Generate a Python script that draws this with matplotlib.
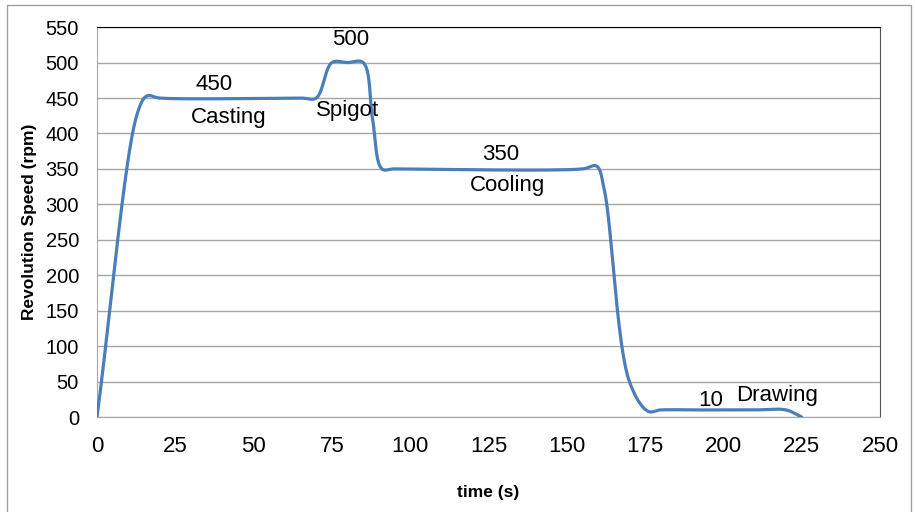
import numpy as np
import matplotlib.pyplot as plt
from matplotlib.patches import Rectangle

# key points of the speed profile (time in s, speed in rpm)
time_s = [0, 13, 16, 20, 65, 70, 75, 80, 85, 88, 91, 95, 155, 159.5, 162, 170, 176, 180,
          190, 200, 210, 220, 225]
speed = [0, 430, 453, 450, 450, 450, 500, 500, 500, 420, 350, 350, 350, 354, 320, 50, 8, 10,
         10, 10, 10, 10, 0]

# stage labels: (text, x, y)
labels = [('450', 37.5, 469), ('Casting', 42, 422),
          ('500', 81, 532), ('Spigot', 80, 433),
          ('350', 129, 370), ('Cooling', 131, 327),
          ('10', 196, 24), ('Drawing', 217, 30)]


def smooth(xs, ys, sx=3.13, sy=0.709, n=40):
    # smoothed line like Excel's, centripetal Catmull-Rom in screen units
    p = np.column_stack([np.array(xs) * sx, np.array(ys) * sy]).astype(float)
    p = np.vstack([2 * p[0] - p[1], p, 2 * p[-1] - p[-2]])
    out = []
    for i in range(1, len(p) - 2):
        p0, p1, p2, p3 = p[i - 1], p[i], p[i + 1], p[i + 2]
        t0 = 0.0
        t1 = t0 + np.linalg.norm(p1 - p0) ** 0.5
        t2 = t1 + np.linalg.norm(p2 - p1) ** 0.5
        t3 = t2 + np.linalg.norm(p3 - p2) ** 0.5
        t = np.linspace(t1, t2, n, endpoint=False)[:, None]
        a1 = (t1 - t) / (t1 - t0) * p0 + (t - t0) / (t1 - t0) * p1
        a2 = (t2 - t) / (t2 - t1) * p1 + (t - t1) / (t2 - t1) * p2
        a3 = (t3 - t) / (t3 - t2) * p2 + (t - t2) / (t3 - t2) * p3
        b1 = (t2 - t) / (t2 - t0) * a1 + (t - t0) / (t2 - t0) * a2
        b2 = (t3 - t) / (t3 - t1) * a2 + (t - t1) / (t3 - t1) * a3
        out.append((t2 - t) / (t2 - t1) * b1 + (t - t1) / (t2 - t1) * b2)
    out.append(p[-2][None, :])
    out = np.vstack(out)
    return out[:, 0] / sx, out[:, 1] / sy


plt.rcParams['font.family'] = ['Liberation Sans', 'DejaVu Sans']

fig = plt.figure(figsize=(9.15, 5.12), dpi=100)
ax = fig.add_axes([0.106, 0.1855, 0.8557, 0.7615])

lx, ly = smooth(time_s, speed)
ax.plot(lx, ly, color='#4a7ebb', lw=2.3, solid_capstyle='round', zorder=3)

for txt, x, y in labels:
    ax.text(x, y, txt, ha='center', va='center', fontsize=16, color='black')

ax.set_xlim(0, 250)
ax.set_ylim(0, 550)
ax.set_xticks(np.arange(0, 251, 25))
ax.set_yticks(np.arange(0, 551, 50))
ax.grid(axis='y', color='#a6a6a6', lw=1)
ax.set_axisbelow(True)
ax.tick_params(length=0)
ax.tick_params(axis='x', pad=14, labelsize=16)
ax.tick_params(axis='y', pad=13, labelsize=14.5)

ax.spines['left'].set_color('#a6a6a6')
ax.spines['bottom'].set_color('#a6a6a6')
ax.spines['top'].set_color('black')
ax.spines['right'].set_color('#555555')

ax.set_xlabel('time (s)', fontsize=12.5, fontweight='bold', labelpad=20)
ax.set_ylabel('Revolution Speed (rpm)', fontsize=12.5, fontweight='bold', labelpad=6)

fig.patches.append(Rectangle((0.008, -0.01), 0.988, 1.0, transform=fig.transFigure,
                             fill=False, edgecolor='#a0a0a0', lw=1))

fig.savefig('out.png', dpi=100)
